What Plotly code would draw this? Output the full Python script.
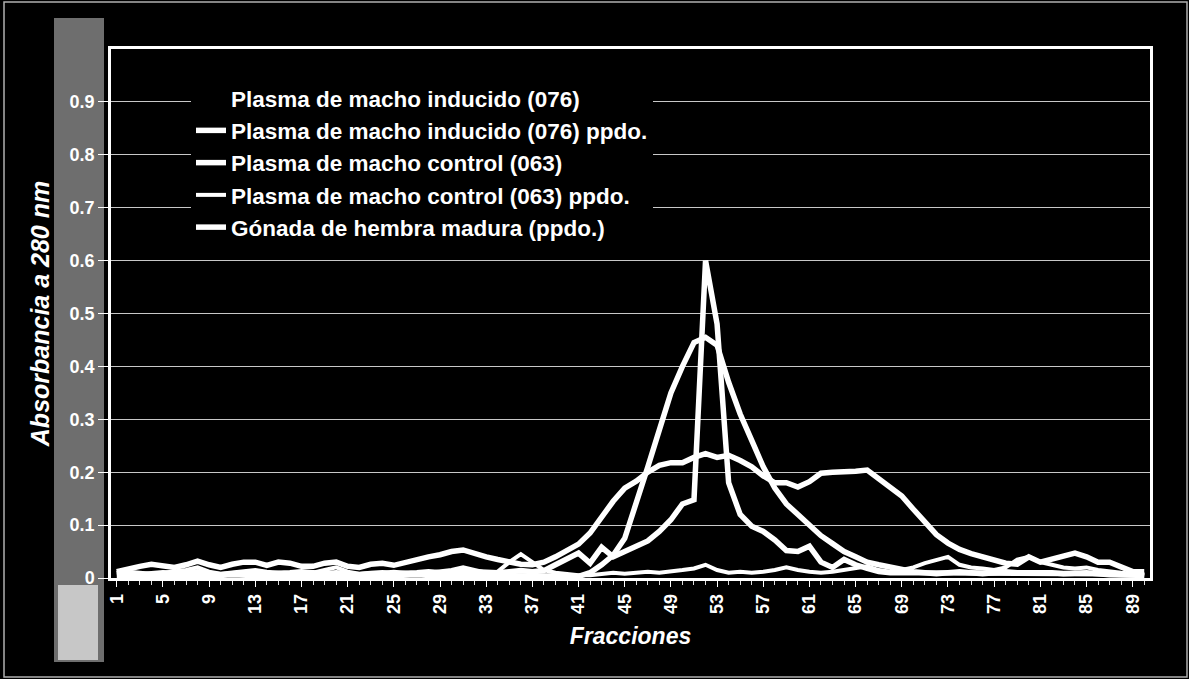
import plotly.graph_objects as go

# Fraction numbers 1..90
fracciones = list(range(1, 91))

# Absorbance at 280 nm for each fraction
inducido_076 = [
    0.008, 0.010, 0.008, 0.006, 0.008, 0.010, 0.010, 0.012, 0.010, 0.008,
    0.008, 0.010, 0.012, 0.010, 0.008, 0.008, 0.010, 0.008, 0.010, 0.012,
    0.010, 0.008, 0.008, 0.010, 0.010, 0.008, 0.008, 0.010, 0.010, 0.012,
    0.012, 0.010, 0.008, 0.008, 0.010, 0.012, 0.010, 0.008, 0.008, 0.010,
    0.010, 0.010, 0.012, 0.012, 0.014, 0.014, 0.016, 0.016, 0.018, 0.018,
    0.018, 0.020, 0.018, 0.016, 0.016, 0.014, 0.014, 0.012, 0.012, 0.012,
    0.010, 0.010, 0.010, 0.010, 0.010, 0.008, 0.008, 0.008, 0.008, 0.010,
    0.010, 0.010, 0.010, 0.008, 0.008, 0.008, 0.008, 0.008, 0.010, 0.010,
    0.010, 0.010, 0.008, 0.008, 0.008, 0.008, 0.006, 0.006, 0.006, 0.005,
]

inducido_076_ppdo = [
    0.008, 0.010, 0.006, 0.008, 0.010, 0.008, 0.010, 0.012, 0.008, 0.006,
    0.008, 0.010, 0.012, 0.008, 0.008, 0.010, 0.012, 0.010, 0.008, 0.010,
    0.008, 0.006, 0.008, 0.010, 0.008, 0.008, 0.010, 0.012, 0.010, 0.012,
    0.014, 0.012, 0.010, 0.010, 0.012, 0.014, 0.012, 0.014, 0.025, 0.035,
    0.047, 0.028, 0.058, 0.040, 0.050, 0.060, 0.070, 0.088, 0.110, 0.140,
    0.148, 0.600, 0.480, 0.180, 0.120, 0.098, 0.088, 0.072, 0.052, 0.050,
    0.060, 0.030, 0.020, 0.035, 0.025, 0.018, 0.012, 0.010, 0.010, 0.012,
    0.010, 0.008, 0.010, 0.012, 0.010, 0.008, 0.010, 0.012, 0.010, 0.010,
    0.012, 0.010, 0.008, 0.010, 0.010, 0.008, 0.008, 0.006, 0.006, 0.005,
]

control_063 = [
    0.012, 0.018, 0.022, 0.026, 0.022, 0.020, 0.025, 0.032, 0.025, 0.020,
    0.026, 0.030, 0.030, 0.024, 0.030, 0.028, 0.022, 0.022, 0.028, 0.030,
    0.022, 0.020, 0.026, 0.028, 0.024, 0.030, 0.035, 0.040, 0.044, 0.050,
    0.053, 0.046, 0.040, 0.035, 0.030, 0.026, 0.025, 0.030, 0.040, 0.052,
    0.064, 0.085, 0.115, 0.145, 0.170, 0.183, 0.200, 0.213, 0.218, 0.218,
    0.228, 0.235, 0.228, 0.232, 0.222, 0.210, 0.193, 0.180, 0.180, 0.172,
    0.182, 0.198, 0.200, 0.200, 0.202, 0.204, 0.188, 0.172, 0.155, 0.130,
    0.104, 0.082, 0.066, 0.054, 0.046, 0.040, 0.034, 0.028, 0.026, 0.040,
    0.030, 0.036, 0.042, 0.047, 0.040, 0.030, 0.030, 0.022, 0.012, 0.012,
]

control_063_ppdo = [
    0.010, 0.012, 0.010, 0.008, 0.010, 0.012, 0.015, 0.020, 0.012, 0.008,
    0.010, 0.012, 0.015, 0.012, 0.010, 0.008, 0.012, 0.010, 0.015, 0.020,
    0.012, 0.008, 0.010, 0.010, 0.012, 0.010, 0.008, 0.010, 0.012, 0.015,
    0.020, 0.015, 0.010, 0.012, 0.030, 0.045, 0.030, 0.015, 0.010, 0.008,
    0.005, 0.005, 0.008, 0.010, 0.008, 0.010, 0.012, 0.010, 0.012, 0.015,
    0.018, 0.025, 0.015, 0.010, 0.012, 0.010, 0.012, 0.015, 0.020, 0.015,
    0.012, 0.010, 0.012, 0.015, 0.018, 0.022, 0.015, 0.012, 0.015, 0.020,
    0.028, 0.035, 0.040, 0.025, 0.020, 0.018, 0.015, 0.020, 0.035, 0.040,
    0.030, 0.025, 0.020, 0.018, 0.020, 0.015, 0.012, 0.010, 0.008, 0.005,
]

gonada_hembra = [
    0.005, 0.006, 0.005, 0.004, 0.005, 0.006, 0.005, 0.005, 0.004, 0.005,
    0.006, 0.005, 0.005, 0.004, 0.005, 0.006, 0.005, 0.005, 0.004, 0.005,
    0.005, 0.006, 0.005, 0.004, 0.005, 0.005, 0.006, 0.005, 0.005, 0.004,
    0.005, 0.005, 0.006, 0.005, 0.004, 0.005, 0.005, 0.006, 0.005, 0.004,
    0.003, 0.010, 0.025, 0.043, 0.075, 0.140, 0.210, 0.280, 0.350, 0.400,
    0.445, 0.455, 0.440, 0.370, 0.310, 0.260, 0.210, 0.170, 0.140, 0.120,
    0.100, 0.080, 0.065, 0.050, 0.040, 0.030, 0.025, 0.020, 0.015, 0.012,
    0.010, 0.010, 0.008, 0.008, 0.010, 0.010, 0.008, 0.008, 0.010, 0.010,
    0.008, 0.008, 0.010, 0.010, 0.008, 0.008, 0.006, 0.006, 0.005, 0.005,
]

series_names = [
    "Plasma de macho inducido (076)",
    "Plasma de macho inducido (076) ppdo.",
    "Plasma de macho control (063)",
    "Plasma de macho control (063) ppdo.",
    "Gónada de hembra madura (ppdo.)",
]
series_values = [inducido_076, inducido_076_ppdo, control_063,
                 control_063_ppdo, gonada_hembra]
series_colors = ["#000000", "#ffffff", "#ffffff", "#ffffff", "#ffffff"]
series_widths = [5, 5.5, 5.5, 4, 5.5]

y_ticks = [0, 0.1, 0.2, 0.3, 0.4, 0.5, 0.6, 0.7, 0.8, 0.9]
y_ticktext = ["0", "0.1", "0.2", "0.3", "0.4", "0.5", "0.6", "0.7", "0.8", "0.9"]

FONT = "Liberation Sans, Arial, Helvetica, sans-serif"

fig = go.Figure()
for i, (name, vals, col, w) in enumerate(zip(series_names, series_values,
                                             series_colors, series_widths)):
    fig.add_trace(go.Scatter(
        x=fracciones, y=vals, name=name, mode="lines",
        line=dict(color=col, width=w),
        legendgroup=f"g{i}",
    ))

# plot-area pixel geometry -> paper coordinates helpers
L, R, T, B = 111, 39, 49, 101
W, H = 1189, 679
pw, ph = W - L - R, H - T - B


def px_x(x):
    return (x - L) / pw


def px_y(y):
    return (H - B - y) / ph


shapes = [
    # light band behind the vertical axis labels
    dict(type="rect", xref="paper", yref="paper", layer="below",
         x0=px_x(54), x1=px_x(104), y0=px_y(662), y1=px_y(18),
         fillcolor="#c8c8c8", opacity=0.55, line=dict(width=0)),
    dict(type="rect", xref="paper", yref="paper", layer="below",
         x0=px_x(58), x1=px_x(98), y0=px_y(660), y1=px_y(585),
         fillcolor="#e6e6e6", opacity=0.75, line=dict(width=0)),
    # outer chart frame
    dict(type="rect", xref="paper", yref="paper", layer="below",
         x0=px_x(4), x1=px_x(1187), y0=px_y(677), y1=px_y(2),
         fillcolor="rgba(0,0,0,0)", line=dict(color="#b0b0b0", width=1.5)),
]

fig.update_layout(
    width=W, height=H,
    paper_bgcolor="black", plot_bgcolor="black",
    margin=dict(l=L, r=R, t=T, b=B, autoexpand=False),
    font=dict(family=FONT, color="white", size=17),
    showlegend=True,
    legend=dict(
        x=px_x(191), y=px_y(77), xanchor="left", yanchor="top",
        bgcolor="#000000", borderwidth=0,
        font=dict(family=FONT, size=22.5, color="white", weight="bold"),
        tracegroupgap=0,
    ),
    shapes=shapes,
)

fig.update_xaxes(
    range=[0.5, 90.5], tickmode="linear", tick0=1, dtick=4,
    tickangle=-90, ticks="outside", ticklen=6, tickcolor="white",
    tickfont=dict(family=FONT, size=18, color="white", weight="bold"),
    minor=dict(dtick=1, ticks="outside", ticklen=4, tickcolor="#dddddd"),
    showgrid=False, zeroline=False,
    showline=True, linecolor="white", linewidth=2.5, mirror=True,
    title=dict(text="Fracciones", standoff=15,
               font=dict(family=FONT, size=23, color="white",
                         weight="bold", style="italic")),
)

fig.update_yaxes(
    range=[0, 1], tickmode="array", tickvals=y_ticks, ticktext=y_ticktext,
    ticks="outside", ticklen=10, tickcolor="white",
    tickfont=dict(family=FONT, size=18, color="white", weight="bold"),
    showgrid=True, gridcolor="#c8c8c8", gridwidth=1.3, zeroline=False,
    showline=True, linecolor="white", linewidth=2.5, mirror=True,
    title=dict(text="Absorbancia a 280 nm", standoff=13,
               font=dict(family=FONT, size=25, color="white",
                         weight="bold", style="italic")),
)

fig.write_html("out.html")
